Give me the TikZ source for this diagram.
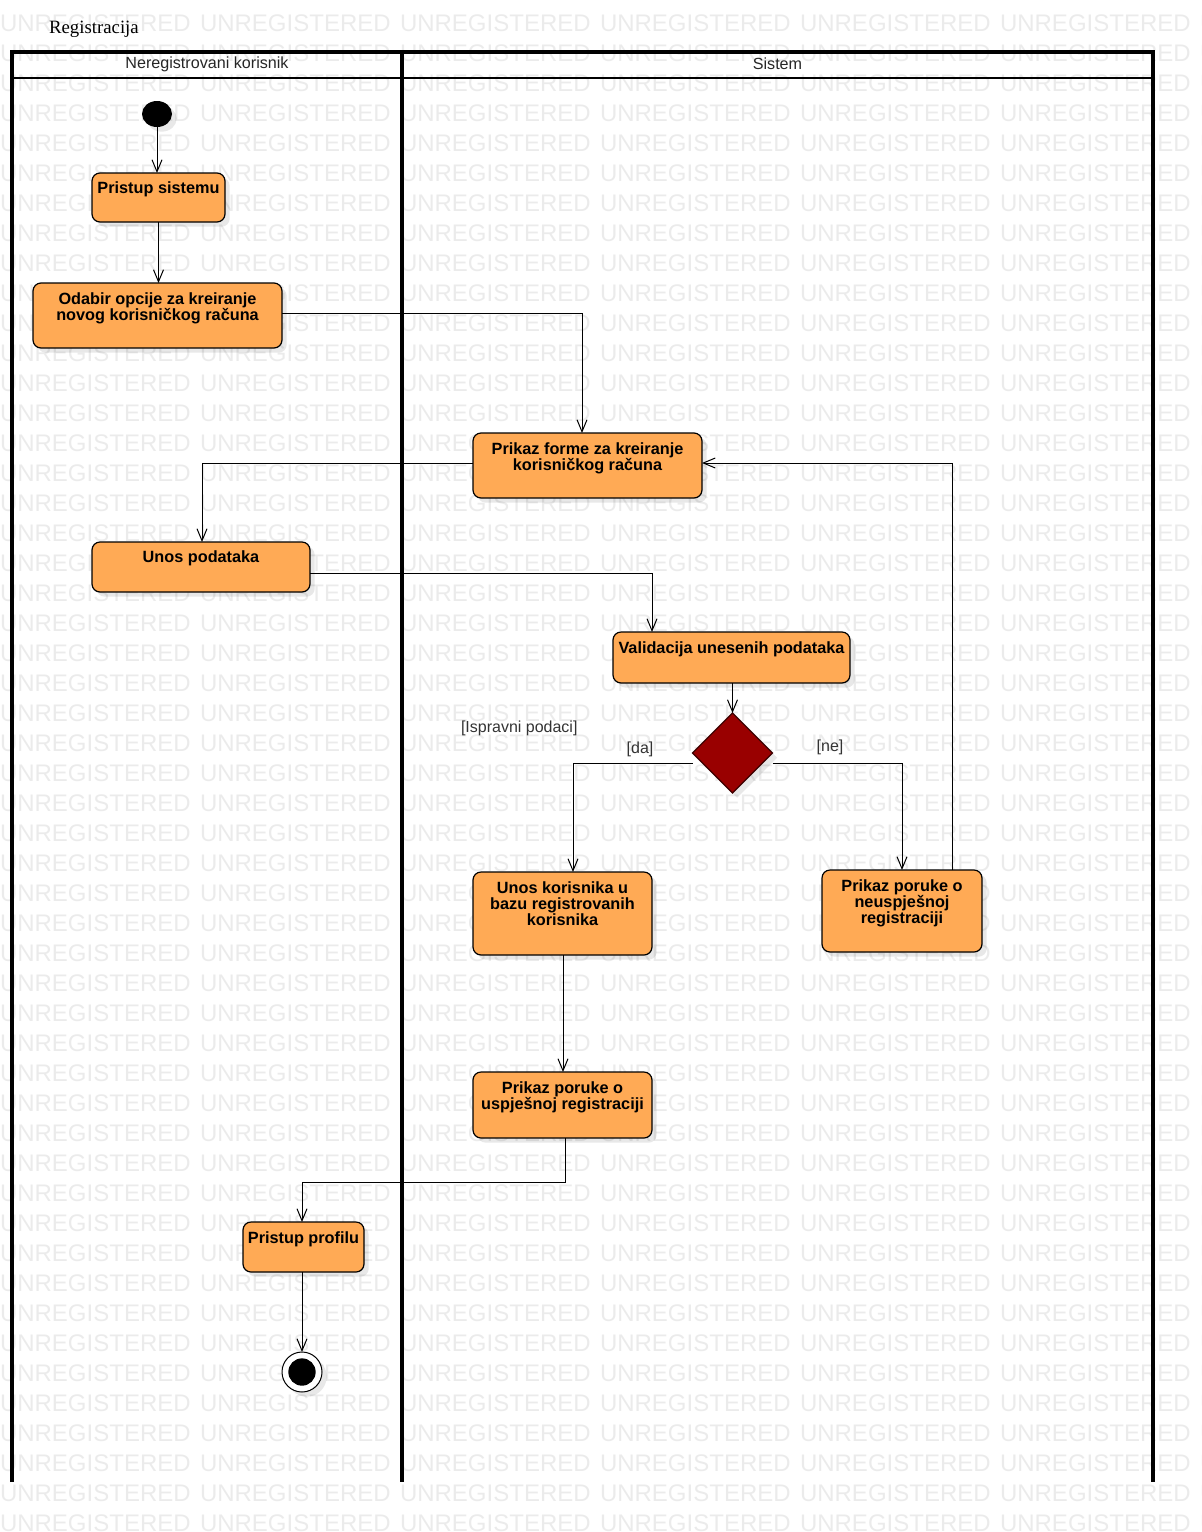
\documentclass[tikz,border=0pt]{standalone}
\usepackage{fontspec}
\setmainfont{Liberation Sans}
\newfontfamily\titlefont{Liberation Serif}
\usetikzlibrary{arrows.meta,shapes.geometric,shadows,fit}
\definecolor{actfill}{HTML}{FFAA55}
\definecolor{decfill}{HTML}{990000}
\definecolor{wmark}{HTML}{EBEBEB}
\begin{document}
\begin{tikzpicture}[x=0.75pt,y=-0.75pt,
  every node/.style={inner sep=0pt, outer sep=0pt},
  softshadow/.style={drop shadow={shadow xshift=3.5pt, shadow yshift=-3.5pt, fill=black, opacity=0.09}},
  act/.style={draw=black, line width=0.9pt, fill=actfill, rounded corners=6pt, softshadow},
  acttext/.style={font=\fontsize{12.2}{12}\selectfont\bfseries, align=center, anchor=north},
  flow/.style={draw=black, line width=0.75pt, -{Straight Barb[length=9pt,width=7.5pt]}},
  lane/.style={line width=2.4pt},
  lanetitle/.style={font=\fontsize{12.1}{12}\selectfont, text=black!85},
  guard/.style={font=\fontsize{12}{12}\selectfont, text=black!80},
  wm/.style={anchor=base west, text=wmark, font=\fontsize{18}{18}\selectfont}
]
\useasboundingbox (0,0) rectangle (1202,1532);

% background stamp
\begin{scope}
  \clip (0,0) rectangle (1202,1532);
  \foreach \r in {0,...,50}
    \foreach \c in {0,...,6}
      \node[wm] (wm-\r-\c) at (200*\c, 31.5+30*\r) {UNREGISTERED};
\end{scope}

% title
\node[anchor=base west, font=\titlefont\fontsize{14.1}{14}\selectfont] (title) at (49,33) {Registracija};

% swimlanes
\draw[lane] (12,1482) -- (12,52) -- (1153,52) -- (1153,1482);
\draw[lane] (402,52) -- (402,1482);
\draw[line width=1.6pt] (12,78) -- (1153,78);
\node[lanetitle] (laneuser) at (207,64) {Neregistrovani korisnik};
\node[lanetitle] (lanesys) at (777.5,64) {Sistem};

% initial and final states
\node[ellipse, fill=black, minimum width=22.5pt, minimum height=19.5pt, softshadow] (init) at (157,114) {};
\node[circle, draw=black, fill=white, line width=0.75pt, minimum size=30pt, softshadow] (fin) at (302,1372) {};
\node[circle, fill=black, minimum size=20.5pt] (fincore) at (fin) {};

% activities
\node[act, fit={(92,173) (225,222)}] (ps) {};
\node[acttext] (pst) at ([yshift=-6.5pt]ps.north) {Pristup sistemu};

\node[act, fit={(33,283) (282,348)}] (od) {};
\node[acttext] (odt) at ([yshift=-7.3pt]od.north) {Odabir opcije za kreiranje\\novog korisničkog računa};

\node[act, fit={(473,433) (702,498)}] (pf) {};
\node[acttext] (pft) at ([yshift=-7.3pt]pf.north) {Prikaz forme za kreiranje\\korisničkog računa};

\node[act, fit={(92,542) (310,592)}] (un) {};
\node[acttext] (unt) at ([yshift=-6.8pt]un.north) {Unos podataka};

\node[act, fit={(613,632) (850,683)}] (val) {};
\node[acttext] (valt) at ([yshift=-7.3pt]val.north) {Validacija unesenih podataka};

\node[diamond, draw=black!60!decfill, fill=decfill, line width=1pt, minimum width=60pt, minimum height=60pt, softshadow] (dec) at (732.5,753) {};

\node[act, fit={(473,872) (652,955)}] (uk) {};
\node[acttext] (ukt) at ([yshift=-7.3pt]uk.north) {Unos korisnika u\\bazu registrovanih\\korisnika};

\node[act, fit={(822,870) (982,952)}] (nu) {};
\node[acttext] (nut) at ([yshift=-7.3pt]nu.north) {Prikaz poruke o\\neuspješnoj\\registraciji};

\node[act, fit={(473,1072) (652,1138)}] (up) {};
\node[acttext] (upt) at ([yshift=-7.3pt]up.north) {Prikaz poruke o\\uspješnoj registraciji};

\node[act, fit={(243,1222) (364,1272)}] (pp) {};
\node[acttext] (ppt) at ([yshift=-7.3pt]pp.north) {Pristup profilu};

% guard labels
\node[guard, anchor=west] (gok) at (461,728) {[Ispravni podaci]};
\node[guard] (gda) at (640,749) {[da]};
\node[guard] (gne) at (830,747) {[ne]};

% control flow
\draw[flow] (init.south) -- (init.south |- ps.north);
\draw[flow] (ps.south) -- (ps.south |- od.north);
\draw[flow] (od.east |- 0,313) -| (pf.north -| 582,0);
\draw[flow] (pf.west |- 0,463) -| (un.north -| 202,0);
\draw[flow] (un.east |- 0,573) -| (val.north -| 652,0);
\draw[flow] (dec.north |- val.south) -- (dec.north);
\draw[flow] (dec.west |- 0,763) -| (uk.north -| 573,0);
\draw[flow] (dec.east |- 0,763) -| (nu.north -| 902,0);
\draw[flow] (nu.north -| 952,0) |- (pf.east |- 0,463);
\draw[flow] (uk.south -| 563,0) -- (up.north -| 563,0);
\draw[flow] (up.south -| 565,0) |- (302,1182) -- (pp.north -| 302,0);
\draw[flow] (pp.south -| 302,0) -- (fin.north);
\end{tikzpicture}
\end{document}
